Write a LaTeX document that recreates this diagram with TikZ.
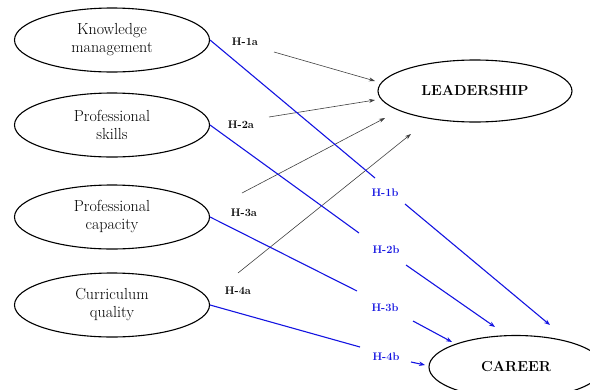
\documentclass[tikz,border=0pt]{standalone}
\usepackage{tikz}
\usetikzlibrary{positioning,shapes.geometric,arrows.meta}
\definecolor{hblue}{RGB}{20,20,225}
\tikzstyle{construct}=[ellipse,draw,line width=1.1pt,minimum width=195pt,minimum height=64pt,inner sep=0pt,align=center,font=\fontsize{16}{18}\selectfont]
\tikzstyle{outcome}=[construct,font=\fontsize{14.5}{17}\selectfont\bfseries]
\tikzstyle{hyp}=[font=\fontsize{11}{12}\selectfont\bfseries]
\tikzstyle{toleader}=[draw=black!75,line width=0.6pt,-{Stealth[length=6pt,width=4pt]}]
\tikzstyle{tocareer}=[draw=hblue,line width=1.1pt]
\tikzstyle{tocareerarr}=[tocareer,-{Stealth[length=6pt,width=4.5pt]}]

\begin{document}
\begin{tikzpicture}[x=1pt,y=-1pt]
    \useasboundingbox (0,0) rectangle (590,389);
    \clip (0,0) rectangle (590,389);

          \node[construct] (km)   at (112,40)  {Knowledge\\management};
          \node[construct] (ps)   at (112,125) {Professional\\skills};
          \node[construct] (pc)   at (112,217) {Professional\\capacity};
          \node[construct] (cq)   at (112,305) {Curriculum\\quality};
          \node[outcome,minimum width=194pt,minimum height=62pt] (lead) at (475,91) {LEADERSHIP};
          \node[outcome,minimum width=174pt,minimum height=63pt] (car)  at (516,367) {CAREER};

          \node[hyp] (h1a) at (245,42)  {H-1a};
          \node[hyp] (h2a) at (241,125) {H-2a};
          \node[hyp] (h3a) at (244,213) {H-3a};
          \node[hyp] (h4a) at (238,291) {H-4a};
          \node[hyp,text=hblue] (h1b) at (385,193) {H-1b};
          \node[hyp,text=hblue] (h2b) at (386,250) {H-2b};
          \node[hyp,text=hblue] (h3b) at (385,308) {H-3b};
          \node[hyp,text=hblue] (h4b) at (386,357) {H-4b};

          % ends of the leadership paths
          \coordinate (h1a-s) at (274,52);  \coordinate (h1a-e) at (375,81);
          \coordinate (h2a-s) at (269,117); \coordinate (h2a-e) at (375,100);
          \coordinate (h3a-s) at (242,193); \coordinate (h3a-e) at (385,118);
          \coordinate (h4a-s) at (238,273); \coordinate (h4a-e) at (411,134);

          % ends of the career paths
          \coordinate (h1b-i) at (375,178); \coordinate (h1b-o) at (405,204); \coordinate (h1b-e) at (550,325);
          \coordinate (h2b-i) at (359,233); \coordinate (h2b-o) at (406,265); \coordinate (h2b-e) at (495,327);
          \coordinate (h3b-i) at (357,291); \coordinate (h3b-o) at (413,321); \coordinate (h3b-e) at (452,342);
          \coordinate (h4b-i) at (360,347); \coordinate (h4b-o) at (411,362); \coordinate (h4b-e) at (425,365);

          \draw[toleader] (h1a-s) -- (h1a-e);
          \draw[toleader] (h2a-s) -- (h2a-e);
          \draw[toleader] (h3a-s) -- (h3a-e);
          \draw[toleader] (h4a-s) -- (h4a-e);

          \draw[tocareer] (km.east) -- (h1b-i);
          \draw[tocareer] (ps.east) -- (h2b-i);
          \draw[tocareer] (pc.east) -- (h3b-i);
          \draw[tocareer] (cq.east) -- (h4b-i);
          \draw[tocareerarr] (h1b-o) -- (h1b-e);
          \draw[tocareerarr] (h2b-o) -- (h2b-e);
          \draw[tocareerarr] (h3b-o) -- (h3b-e);
          \draw[tocareerarr] (h4b-o) -- (h4b-e);
        \end{tikzpicture}
\end{document}
